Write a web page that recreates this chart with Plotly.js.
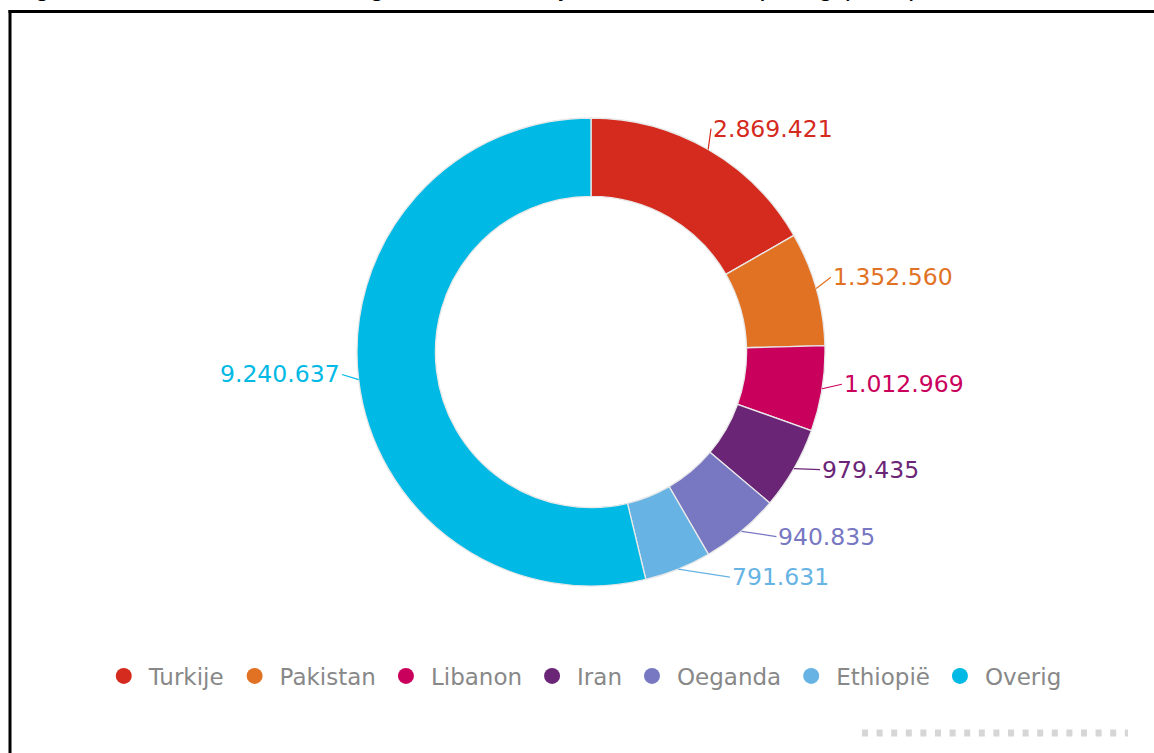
<!DOCTYPE html>
<html>
<head>
<meta charset="utf-8">
<script src="https://cdn.plot.ly/plotly-3.0.1.min.js"></script>
<style>html,body{margin:0;padding:0;background:#fff;overflow:hidden}#chart{width:1154px;height:753px}</style>
</head>
<body>
<div id="chart"></div>
<script>
// ---- data ----
const countries = ["Turkije", "Pakistan", "Libanon", "Iran", "Oeganda", "Ethiopië", "Overig"];
const refugees = [2869421, 1352560, 1012969, 979435, 940835, 791631, 9240637];
const sliceColors = ["#d52b1e", "#e17224", "#ca005d", "#6b2577", "#7777c2", "#66b3e4", "#00b9e4"];
const titleText = "Figuur 1. Het aantal vluchtelingen in landen bij de allereerste opvang (2016)";

// ---- layout geometry ----
const W = 1154, H = 753;
const pieDomain = {x: [357 / W, 825 / W], y: [1 - 586 / H, 1 - 118 / H]};
const cx = W * (pieDomain.x[0] + pieDomain.x[1]) / 2;
const cy = H * (1 - (pieDomain.y[0] + pieDomain.y[1]) / 2);
const R = Math.min(W * (pieDomain.x[1] - pieDomain.x[0]), H * (pieDomain.y[1] - pieDomain.y[0])) / 2;

function fmt(v) { return String(v).replace(/\B(?=(\d{3})+(?!\d))/g, "."); }

const total = refugees.reduce((a, b) => a + b, 0);
const annotations = [];
let cum = 0;
refugees.forEach((v, i) => {
  const th = 2 * Math.PI * (cum + v / 2) / total;
  cum += v;
  const ex = cx + R * Math.sin(th), ey = cy - R * Math.cos(th);
  const side = Math.sin(th) >= 0 ? 1 : -1;
  const ly = cy - (R + 16) * Math.cos(th) - 7;
  const dy = ly - cy;
  const rx = side > 0 ? R + 22 + 12 * Math.max(0, -Math.cos(th)) : R + 16;
  const lx = cx + side * Math.sqrt(Math.max(rx * rx - dy * dy, 0)) - (side > 0 ? 5 : 0);
  annotations.push({
    xref: "paper", yref: "paper",
    x: ex / W, y: 1 - ey / H,
    ax: lx - ex, ay: ly - ey,
    axref: "pixel", ayref: "pixel",
    text: fmt(v),
    showarrow: true, arrowhead: 0, arrowwidth: 1.2, arrowcolor: sliceColors[i],
    xanchor: side > 0 ? "left" : "right", yanchor: "middle",
    font: {family: "DejaVu Sans, Verdana, sans-serif", size: 23.5, color: sliceColors[i]}
  });
});

annotations.push({
  xref: "paper", yref: "paper", x: 10 / W, y: 1, xanchor: "left", yanchor: "bottom",
  yshift: -3, showarrow: false, text: titleText,
  font: {family: "Liberation Sans, Arial, sans-serif", size: 27, color: "#000"}
});

const traces = [{
  type: "pie",
  labels: countries,
  values: refugees,
  sort: false,
  direction: "clockwise",
  rotation: 0,
  hole: 0.665,
  domain: pieDomain,
  marker: {colors: sliceColors, line: {color: "#e8e8e8", width: 1.3}},
  textinfo: "none",
  hoverinfo: "label+value",
  showlegend: false
}];
countries.forEach((c, i) => {
  traces.push({
    type: "scatter", mode: "markers", x: [null], y: [null],
    name: c, marker: {color: sliceColors[i], size: 16, symbol: "circle"},
    showlegend: true, hoverinfo: "skip"
  });
});

const layout = {
  width: W, height: H,
  margin: {l: 0, r: 0, t: 0, b: 0},
  paper_bgcolor: "#fff", plot_bgcolor: "#fff",
  xaxis: {visible: false, range: [0, 1]},
  yaxis: {visible: false, range: [0, 1]},
  showlegend: true,
  legend: {
    orientation: "h", x: 0.505, xanchor: "center", y: 1 - 676 / H, yanchor: "middle",
    font: {family: "DejaVu Sans, Verdana, sans-serif", size: 23, color: "#888888"},
    itemsizing: "trace", itemwidth: 40, bgcolor: "rgba(0,0,0,0)"
  },
  annotations: annotations,
  shapes: [
    {type: "line", xref: "paper", yref: "paper", x0: 8.5 / W, x1: 1, y0: 1 - 11.5 / H, y1: 1 - 11.5 / H,
     line: {color: "#000", width: 3}},
    {type: "line", xref: "paper", yref: "paper", x0: 10 / W, x1: 10 / W, y0: 1 - 10 / H, y1: 0,
     line: {color: "#000", width: 3}},
    {type: "line", xref: "paper", yref: "paper", x0: 862 / W, x1: 1128 / W, y0: 1 - 733 / H, y1: 1 - 733 / H,
     line: {color: "#d6d6d6", width: 7, dash: "6px,8.6px"}}
  ]
};

Plotly.newPlot("chart", traces, layout, {displayModeBar: false, staticPlot: true});
</script>
</body>
</html>
